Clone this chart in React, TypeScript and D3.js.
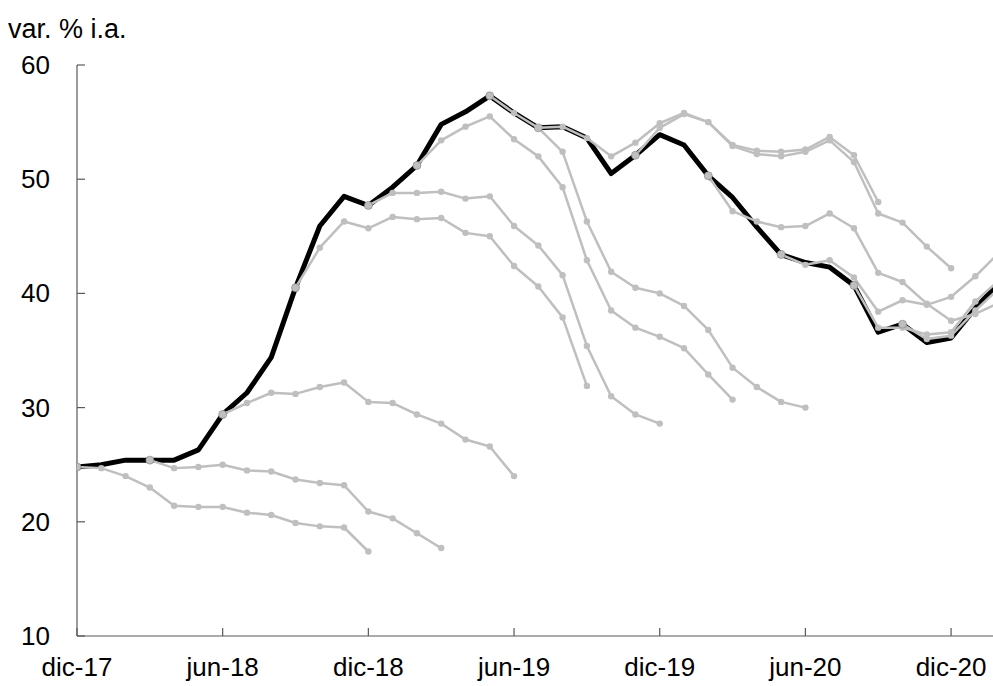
import * as d3 from 'd3';

// meses: dic-17 ... feb-21
const months = [
  'dic-17', 'ene-18', 'feb-18', 'mar-18', 'abr-18', 'may-18', 'jun-18', 'jul-18', 'ago-18', 'sep-18',
  'oct-18', 'nov-18', 'dic-18', 'ene-19', 'feb-19', 'mar-19', 'abr-19', 'may-19', 'jun-19', 'jul-19',
  'ago-19', 'sep-19', 'oct-19', 'nov-19', 'dic-19', 'ene-20', 'feb-20', 'mar-20', 'abr-20', 'may-20',
  'jun-20', 'jul-20', 'ago-20', 'sep-20', 'oct-20', 'nov-20', 'dic-20', 'ene-21', 'feb-21'
];

const xTickLabels = ['dic-17', 'jun-18', 'dic-18', 'jun-19', 'dic-19', 'jun-20', 'dic-20'];
const yTickValues = [10, 20, 30, 40, 50, 60];

// inflación observada
const observed = [
  24.8, 25.0, 25.4, 25.4, 25.4, 26.3, 29.4, 31.3, 34.4, 40.5,
  45.9, 48.5, 47.7, 49.3, 51.2, 54.8, 55.9, 57.3, 55.8, 54.5,
  54.6, 53.6, 50.5, 52.1, 53.9, 53.0, 50.3, 48.4, 45.8, 43.4,
  42.7, 42.3, 40.7, 36.6, 37.3, 35.7, 36.1, 38.7, 41.0
];

// expectativas: mes de inicio + trayectoria
const exp1Start = 'dic-17';
const exp1 = [24.8, 24.7, 24.0, 23.0, 21.4, 21.3, 21.3, 20.8, 20.6, 19.9, 19.6, 19.5, 17.4];
const exp2Start = 'mar-18';
const exp2 = [25.4, 24.7, 24.8, 25.0, 24.5, 24.4, 23.7, 23.4, 23.2, 20.9, 20.3, 19.0, 17.7];
const exp3Start = 'jun-18';
const exp3 = [29.4, 30.4, 31.3, 31.2, 31.8, 32.2, 30.5, 30.4, 29.4, 28.6, 27.2, 26.6, 24.0];
const exp4Start = 'sep-18';
const exp4 = [40.5, 44.0, 46.3, 45.7, 46.7, 46.5, 46.6, 45.3, 45.0, 42.4, 40.6, 37.9, 31.9];
const exp5Start = 'dic-18';
const exp5 = [47.7, 48.8, 48.8, 48.9, 48.3, 48.5, 45.9, 44.2, 41.6, 35.4, 31.0, 29.4, 28.6];
const exp6Start = 'feb-19';
const exp6 = [51.2, 53.4, 54.6, 55.5, 53.5, 52.0, 49.3, 42.9, 38.5, 37.0, 36.2, 35.2, 32.9, 30.7];
const exp7Start = 'jul-19';
const exp7 = [54.5, 52.4, 46.3, 41.9, 40.5, 40.0, 38.9, 36.8, 33.5, 31.8, 30.5, 30.0];
const exp8Start = 'may-19';
const exp8 = [57.3, 55.8, 54.5, 54.6, 53.6, 52.0, 53.2, 54.9, 55.8, 55.0, 53.0, 52.5, 52.4, 52.6, 53.7, 52.1, 48.0];
const exp9Start = 'nov-19';
const exp9 = [52.1, 54.5, 55.7, 55.0, 52.9, 52.2, 52.0, 52.4, 53.4, 51.5, 47.0, 46.2, 44.1, 42.2];
const exp10Start = 'feb-20';
const exp10 = [50.3, 47.2, 46.3, 45.8, 45.9, 47.0, 45.7, 41.8, 41.0, 39.1, 37.6, 38.2, 39.2];
const exp11Start = 'may-20';
const exp11 = [43.4, 42.5, 42.9, 41.4, 38.4, 39.4, 39.0, 39.7, 41.5, 43.6];
const exp12Start = 'ago-20';
const exp12 = [40.7, 37.0, 37.0, 36.4, 36.6, 39.3, 41.2];
const exp13Start = 'oct-20';
const exp13 = [37.3, 36.0, 36.3, 38.5, 40.5];

const expectations: [string, number[]][] = [
  [exp1Start, exp1], [exp2Start, exp2], [exp3Start, exp3], [exp4Start, exp4],
  [exp5Start, exp5], [exp6Start, exp6], [exp7Start, exp7], [exp8Start, exp8],
  [exp9Start, exp9], [exp10Start, exp10], [exp11Start, exp11], [exp12Start, exp12],
  [exp13Start, exp13]
];

const W = 993;
const H = 686;
const left = 77;
const top = 65;
const bottom = 636;
const right = 993;
const FONT = 'Liberation Sans, Arial, sans-serif';
const AXIS = '#595959';
const GREY = '#bfbfbf';

export default function App() {
  const x = d3.scalePoint<string>().domain(months).range([left, left + 24.28 * (months.length - 1)]);
  const y = d3.scaleLinear().domain([10, 60]).range([bottom, top]);

  const line = d3
    .line<[string, number]>()
    .x((d) => x(d[0])!)
    .y((d) => y(d[1]));

  const observedPts = observed.map((v, i) => [months[i], v] as [string, number]);

  const expPts = expectations.map(([start, vals]) => {
    const s = months.indexOf(start);
    return vals.map((v, i) => [months[s + i], v] as [string, number]);
  });

  return (
    <svg
      width={W}
      height={H}
      style={{ position: 'absolute', left: 0, top: 0, background: '#fff' }}
      fontFamily={FONT}
    >
      <defs>
        <clipPath id="plot">
          <rect x={left} y={0} width={right - left} height={bottom} />
        </clipPath>
      </defs>

      <text x={8} y={38} fontSize={27} fill="#000">
        var. % i.a.
      </text>

      {/* eje Y */}
      <line x1={left} x2={left} y1={top} y2={bottom} stroke={AXIS} strokeWidth={1.2} />
      {yTickValues.map((v) => (
        <g key={v}>
          <line x1={left} x2={left + 8} y1={y(v)} y2={y(v)} stroke={AXIS} strokeWidth={1.2} />
          <text x={50} y={y(v) + 9} fontSize={26} textAnchor="end" fill="#000">
            {v}
          </text>
        </g>
      ))}

      {/* eje X */}
      <line x1={left} x2={right} y1={bottom} y2={bottom} stroke={AXIS} strokeWidth={1.2} />
      {xTickLabels.map((m) => (
        <g key={m}>
          <line x1={x(m)} x2={x(m)} y1={bottom} y2={bottom - 8} stroke={AXIS} strokeWidth={1.2} />
          <text x={x(m)} y={676} fontSize={26} textAnchor="middle" fill="#000">
            {m}
          </text>
        </g>
      ))}

      <g clipPath="url(#plot)">
        <path d={line(observedPts)!} fill="none" stroke="#000" strokeWidth={5} strokeLinejoin="round" />

        {expPts.map((pts, k) => (
          <g key={k}>
            <path d={line(pts)!} fill="none" stroke={GREY} strokeWidth={2.5} strokeLinejoin="round" />
            {pts.map((p, i) => (
              <circle
                key={i}
                cx={x(p[0])}
                cy={y(p[1])}
                r={i === 0 ? 4 : 3.2}
                fill={GREY}
                stroke={i === 0 ? '#7f7f7f' : 'none'}
                strokeWidth={i === 0 ? 0.6 : 0}
              />
            ))}
          </g>
        ))}
      </g>
    </svg>
  );
}
